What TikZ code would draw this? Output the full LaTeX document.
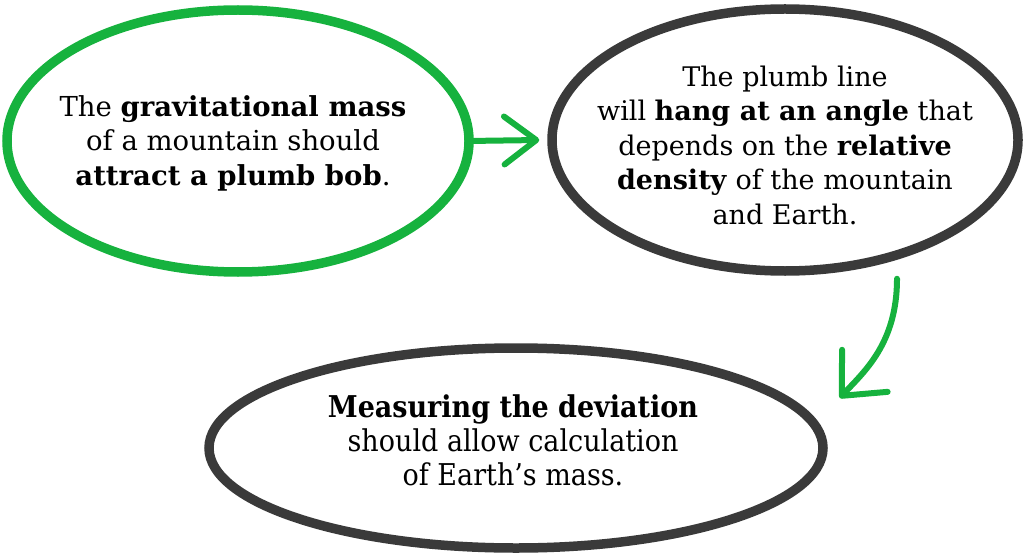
\documentclass[tikz,border=0pt]{standalone}
\usepackage{fontspec}
\setmainfont{DejaVu Serif}
\newfontfamily\condfont{DejaVu Serif Condensed}
\usetikzlibrary{shapes.geometric,arrows.meta}
\definecolor{pgreen}{RGB}{22,178,62}
\definecolor{pgray}{RGB}{58,58,58}
\tikzset{
  bubble/.style={ellipse,draw,line width=9.5pt,inner sep=0pt},
  bubbletext/.style={align=center,font=\fontsize{27.5}{34.5}\selectfont,text=black},
  conn/.style={draw=pgreen,line width=6pt,line cap=round,
    -{Straight Barb[length=32pt,width=48pt,line width=6pt,round]}},
  bigbarb/.style={-{Straight Barb[length=34pt,width=62pt,line width=6pt,round]}}
}
\begin{document}
\begin{tikzpicture}[x=1pt,y=-1pt]
\useasboundingbox (0,0) rectangle (1024,556);
\node[bubble,draw=pgreen,minimum width=462pt,minimum height=262pt] (e1) at (238,141) {};
\node[bubble,draw=pgray,minimum width=466pt,minimum height=262pt] (e2) at (785,140) {};
\node[bubble,draw=pgray,minimum width=614pt,minimum height=200pt] (e3) at (516,448) {};
\node[bubbletext] (t1) at (233,143) {The \textbf{gravitational mass}\\of a mountain should\\\textbf{attract a plumb bob}.};
\node[bubbletext,font=\fontsize{27}{34.5}\selectfont] (t2) at (785,145) {The plumb line\\will \textbf{hang at an angle} that\\depends on the \textbf{relative}\\\textbf{density} of the mountain\\and Earth.};
\node[bubbletext,font=\condfont\fontsize{30}{34}\selectfont] (t3) at (513,440) {\textbf{Measuring the deviation}\\should allow calculation\\of Earth’s mass.};
\coordinate (a1s) at ([xshift=-6pt]e1.east);
\coordinate (a1e) at ([xshift=-8pt]e2.west);
\draw[conn] (a1s) -- (a1e);
\coordinate (a2s) at ([xshift=112pt,yshift=-3pt]e2.south);
\coordinate (a2e) at ([xshift=12pt,yshift=50pt]e3.east);
\draw[conn,bigbarb] (a2s) .. controls ([yshift=-65pt]a2s) and ([xshift=24pt,yshift=26pt]a2e) .. (a2e);
\end{tikzpicture}
\end{document}
